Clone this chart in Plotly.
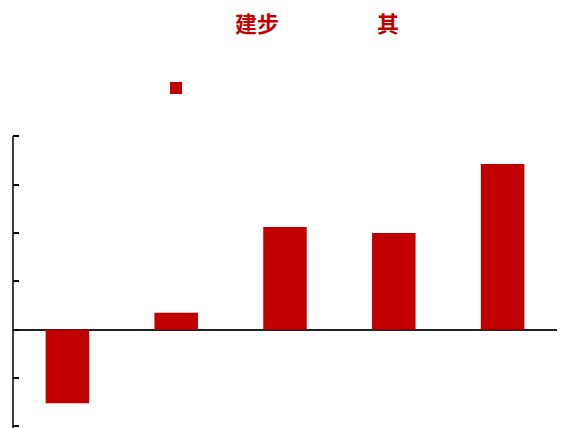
import plotly.graph_objects as go

# Chart data
categories = ["A", "B", "C", "D", "E"]
values = [-3.05, 0.7, 4.25, 4.0, 6.85]
series_name = " "
title_left = "建步"
title_right = "其"
y_min, y_max, y_step = -4, 8, 2

RED = "#C00000"
CJK = "Noto Sans CJK SC, Noto Sans CJK JP, sans-serif"

TOP = 132  # top margin in px
PLOT_H = 428 - TOP

fig = go.Figure()
fig.add_trace(go.Bar(
    x=categories,
    y=values,
    name=series_name,
    marker=dict(color=RED, line=dict(width=0)),
    showlegend=True,
))

# vertical axis line spanning only the tick range
fig.add_shape(type="line", xref="paper", yref="y",
              x0=0, x1=0, y0=y_min - 0.07, y1=y_max,
              line=dict(color="black", width=1.5), layer="above")

fig.update_layout(
    width=563,
    height=428,
    margin=dict(l=13, r=6, t=TOP, b=0),
    paper_bgcolor="white",
    plot_bgcolor="white",
    bargap=0.6,
    showlegend=True,
    legend=dict(
        x=(156 - 13) / 544, xanchor="left",
        y=1 + (TOP - 88) / PLOT_H, yanchor="middle",
        orientation="h",
        font=dict(size=12, family=CJK, color="black"),
        bgcolor="rgba(0,0,0,0)",
        itemwidth=30,
    ),
    xaxis=dict(
        showticklabels=False,
        showline=False,
        ticks="",
        showgrid=False,
        zeroline=False,
    ),
    yaxis=dict(
        range=[-4.07, 8.177],
        dtick=y_step,
        tick0=0,
        showticklabels=False,
        showgrid=False,
        showline=False,
        ticks="inside",
        ticklen=6,
        tickwidth=1.5,
        tickcolor="black",
        zeroline=True,
        zerolinecolor="#222222",
        zerolinewidth=2,
    ),
    annotations=[
        dict(text="<b>%s</b>" % title_left, xref="paper", yref="paper",
             x=(257 - 13) / 544, y=1 + (TOP - 22) / PLOT_H,
             xanchor="center", yanchor="middle", showarrow=False,
             font=dict(size=22, family=CJK, color=RED)),
        dict(text="<b>%s</b>" % title_right, xref="paper", yref="paper",
             x=(388 - 13) / 544, y=1 + (TOP - 22) / PLOT_H,
             xanchor="center", yanchor="middle", showarrow=False,
             font=dict(size=22, family=CJK, color=RED)),
    ],
)

fig.write_html("out.html")
